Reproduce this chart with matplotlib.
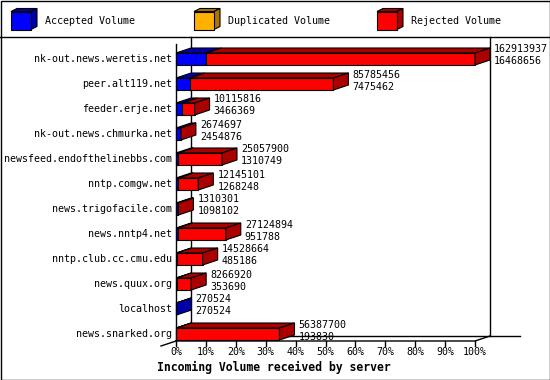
import matplotlib
matplotlib.use("Agg")
import matplotlib.pyplot as plt
from matplotlib.patches import Polygon, Rectangle

servers = [
    "nk-out.news.weretis.net", "peer.alt119.net", "feeder.erje.net",
    "nk-out.news.chmurka.net", "newsfeed.endofthelinebbs.com", "nntp.comgw.net",
    "news.trigofacile.com", "news.nntp4.net", "nntp.club.cc.cmu.edu",
    "news.quux.org", "localhost", "news.snarked.org",
]
total = [162913937, 85785456, 10115816, 2674697, 25057900, 12145101,
         1310301, 27124894, 14528664, 8266920, 270524, 56387700]
accepted = [16468656, 7475462, 3466369, 2454876, 1310749, 1268248,
            1098102, 951788, 485186, 353690, 270524, 193830]
duplicated = [0] * len(servers)
ticks = list(range(0, 101, 10))

series = ["Accepted Volume", "Duplicated Volume", "Rejected Volume"]
front = ["#0000ff", "#ffb000", "#ff0000"]
dark = ["#0000aa", "#aa7700", "#aa0000"]

FONT = "DejaVu Sans Mono"
FS = 7.2
W, H = 550, 380

fig = plt.figure(figsize=(W / 100, H / 100), dpi=100)

# pixel overlay for frame, legend and title
bg = fig.add_axes([0, 0, 1, 1])
bg.set_xlim(0, W)
bg.set_ylim(H, 0)
bg.axis("off")
bg.add_patch(Rectangle((0.5, 0.5), W - 1, H - 1, fill=False, lw=1, ec="black"))
bg.plot([0, W], [36.5, 36.5], color="black", lw=1)

legend_x = [11, 194, 377]
for lx, name, c, cd in zip(legend_x, series, front, dark):
    x0, y0, w, h, dx, dy = lx, 11.5, 20, 18, 6, 3
    bg.add_patch(Polygon([(x0, y0), (x0 + dx, y0 - dy), (x0 + w + dx, y0 - dy), (x0 + w, y0)],
                         fc=cd, ec="black", lw=0.8))
    bg.add_patch(Polygon([(x0 + w, y0), (x0 + w + dx, y0 - dy), (x0 + w + dx, y0 + h - dy), (x0 + w, y0 + h)],
                         fc=cd, ec="black", lw=0.8))
    bg.add_patch(Rectangle((x0, y0), w, h, fc=c, ec="black", lw=0.8))
    bg.text(x0 + 34, 20.5, name, family=FONT, fontsize=FS, va="center", ha="left")

bg.text(274, 367, "Incoming Volume received by server", family=FONT,
        fontsize=8.3, fontweight="bold", ha="center", va="center")

# chart area: x in percent, y in row index
left_px, right_px, top_px, bot_px = 176, 475, 37, 341
row_px = 25
ax = fig.add_axes([left_px / W, 1 - bot_px / H, (right_px - left_px) / W, (bot_px - top_px) / H])
y_top = (top_px - 59) / row_px
y_bot = y_top + (bot_px - top_px) / row_px
ax.set_xlim(0, 100)
ax.set_ylim(y_bot, y_top)
ax.axis("off")

DX = 15 * 100 / (right_px - left_px)
DY = 5 / row_px
HALF = 6 / row_px
kw = dict(clip_on=False, lw=0.8, ec="black")
line = dict(color="black", lw=1, clip_on=False, zorder=1)

# walls and floor
ax.plot([DX, DX], [y_top, y_bot - DY], **line)
ax.plot([100 + DX, 100 + DX], [y_top, y_bot - DY], **line)
ax.plot([DX, (520 - left_px) * 100 / (right_px - left_px)], [y_bot - DY, y_bot - DY], **line)
ax.plot([0, 0], [(44 - 59) / row_px, y_bot], color="black", lw=1, clip_on=False, zorder=5)
ax.plot([0, 100, 100 + DX], [y_bot, y_bot, y_bot - DY], color="black", lw=1, clip_on=False, zorder=5)
ax.plot([0, -DX], [y_bot, y_bot + DY], color="black", lw=1, clip_on=False, zorder=5)
for t in ticks:
    ax.plot([t, t], [y_bot, y_bot + DY], color="black", lw=1, clip_on=False)
    ax.text(t, y_bot + 11 / row_px, f"{t}%", family=FONT, fontsize=FS,
            ha="center", va="center")

vmax = max(total)
for i, name in enumerate(servers):
    rejected = total[i] - accepted[i] - duplicated[i]
    parts = [accepted[i], duplicated[i], rejected]
    x = 0.0
    z = 3 + i * 0.01
    last = max(k for k, v in enumerate(parts) if v > 0)
    for k, v in enumerate(parts):
        if v <= 0:
            continue
        w = v / vmax * 100
        x0, x1 = x, x + w
        ax.add_patch(Polygon([(x0, i - HALF), (x1, i - HALF), (x1 + DX, i - HALF - DY), (x0 + DX, i - HALF - DY)],
                             fc=dark[k], zorder=z, **kw))
        ax.add_patch(Rectangle((x0, i - HALF), w, 2 * HALF, fc=front[k], zorder=z, **kw))
        if k == last:
            ax.add_patch(Polygon([(x1, i - HALF), (x1 + DX, i - HALF - DY), (x1 + DX, i + HALF - DY), (x1, i + HALF)],
                                 fc=dark[k], zorder=z, **kw))
        x = x1
    end = total[i] / vmax * 100 + DX + 4 * 100 / (right_px - left_px)
    ax.text(end, i - 9.5 / row_px, str(total[i]), family=FONT, fontsize=FS,
            ha="left", va="center", zorder=6)
    ax.text(end, i + 2.5 / row_px, str(accepted[i]), family=FONT, fontsize=FS,
            ha="left", va="center", zorder=6)
    ax.text(-4 * 100 / (right_px - left_px), i, name, family=FONT, fontsize=FS,
            ha="right", va="center")

fig.savefig("out.png", dpi=100)
